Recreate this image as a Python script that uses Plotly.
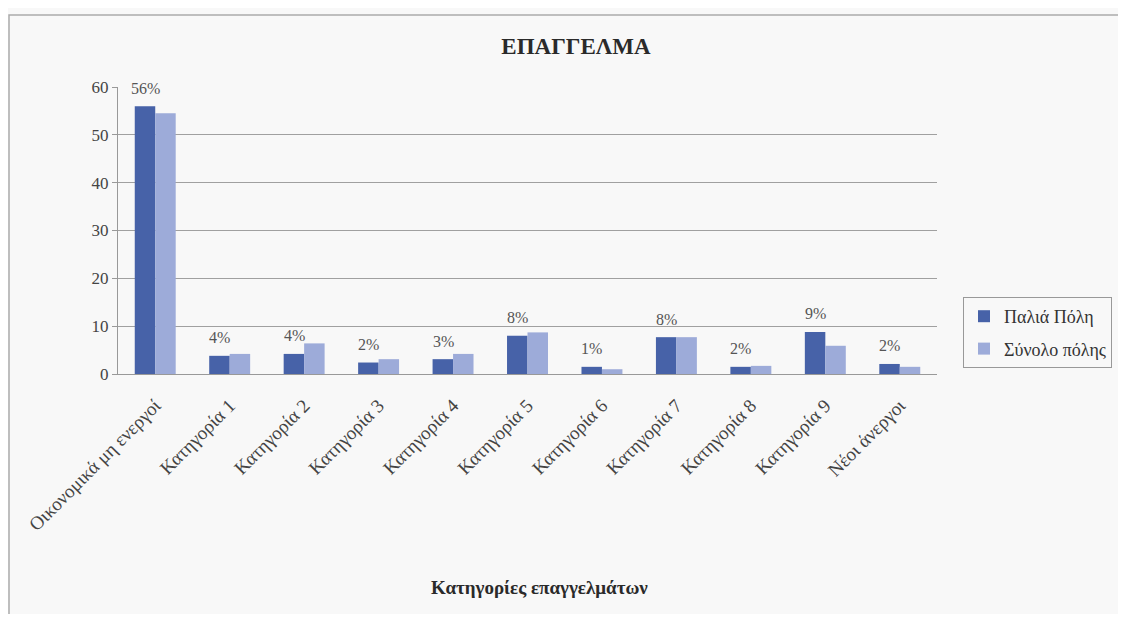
import plotly.graph_objects as go

categories = ["Οικονομικά μη ενεργοί", "Κατηγορία 1", "Κατηγορία 2", "Κατηγορία 3",
              "Κατηγορία 4", "Κατηγορία 5", "Κατηγορία 6", "Κατηγορία 7",
              "Κατηγορία 8", "Κατηγορία 9", "Νέοι άνεργοι"]
palia_poli = [56.0, 3.8, 4.2, 2.4, 3.1, 8.0, 1.5, 7.7, 1.5, 8.8, 2.1]
synolo_polis = [54.5, 4.2, 6.4, 3.1, 4.2, 8.7, 1.0, 7.7, 1.7, 5.9, 1.5]
labels = ["56%", "4%", "4%", "2%", "3%", "8%", "1%", "8%", "2%", "9%", "2%"]
y_ticks = [0, 10, 20, 30, 40, 50, 60]

serif = "Liberation Serif, Times New Roman, serif"
dark = "#4762a8"
light = "#9dabd9"

# page offset of the figure (browser body margin)
OFF = 8
W, H = 1126 - 2 * OFF, 622 - 2 * OFF
L, R, T, B = 118 - OFF, 937 - OFF, 87 - OFF, 374 - OFF
pw, ph = R - L, B - T

fig = go.Figure()
fig.add_trace(go.Bar(x=categories, y=palia_poli, name="Παλιά Πόλη", legendgroup="a",
                     marker=dict(color=dark, line=dict(width=0))))
fig.add_trace(go.Bar(x=categories, y=synolo_polis, name="Σύνολο πόλης", legendgroup="b",
                     marker=dict(color=light, line=dict(width=0))))

annotations = []
for c, v, t in zip(categories, palia_poli, labels):
    annotations.append(dict(x=c, y=v, text=t, showarrow=False, xshift=-10, yshift=18,
                            font=dict(family=serif, size=16, color="#555555")))
annotations.append(dict(x=(539 - OFF - L) / pw, y=(B - (587 - OFF)) / ph,
                        xref="paper", yref="paper", yanchor="middle",
                        text="<b>Κατηγορίες επαγγελμάτων</b>", showarrow=False,
                        font=dict(family=serif, size=19, color="#2a2a2a")))

fig.update_layout(
    width=W, height=H,
    margin=dict(l=L, r=W - R, t=T, b=H - B, autoexpand=False),
    paper_bgcolor="#f8f8f8", plot_bgcolor="#f8f8f8",
    barmode="group", bargap=0.45, bargroupgap=0,
    title=dict(text="<b>ΕΠΑΓΓΕΛΜΑ</b>", x=(576 - OFF) / W, xanchor="center",
               y=1 - (46 - OFF) / H, yanchor="middle",
               font=dict(family=serif, size=23, color="#2a2a2a")),
    font=dict(family=serif, color="#444444"),
    showlegend=True,
    legend=dict(x=(963 - OFF - L) / pw, y=(B - (297 - OFF)) / ph,
                xanchor="left", yanchor="top",
                bordercolor="#999999", borderwidth=1, bgcolor="#f8f8f8",
                font=dict(family=serif, size=18, color="#333333"),
                itemwidth=30, tracegroupgap=6),
    annotations=annotations,
    xaxis=dict(tickangle=-45, tickfont=dict(family=serif, size=19, color="#444444"),
               showline=True, linecolor="#999999", linewidth=1, ticks="",
               ticklabelstandoff=12, showgrid=False),
    yaxis=dict(range=[0, 60], tickvals=y_ticks, showgrid=True, gridcolor="#a0a0a0",
               gridwidth=1, showline=True, linecolor="#999999", linewidth=1,
               ticks="outside", ticklen=5, tickcolor="#999999",
               tickfont=dict(family=serif, size=17, color="#444444"), zeroline=False),
    shapes=[dict(type="rect", xref="paper", yref="paper",
                 x0=(9 - OFF - L) / pw, x1=(1121 - OFF - L) / pw,
                 y0=(B - (640 - OFF)) / ph, y1=(B - (15 - OFF)) / ph,
                 line=dict(color="#aaaaaa", width=1.5), fillcolor="rgba(0,0,0,0)")],
)

fig.write_html("out.html")
